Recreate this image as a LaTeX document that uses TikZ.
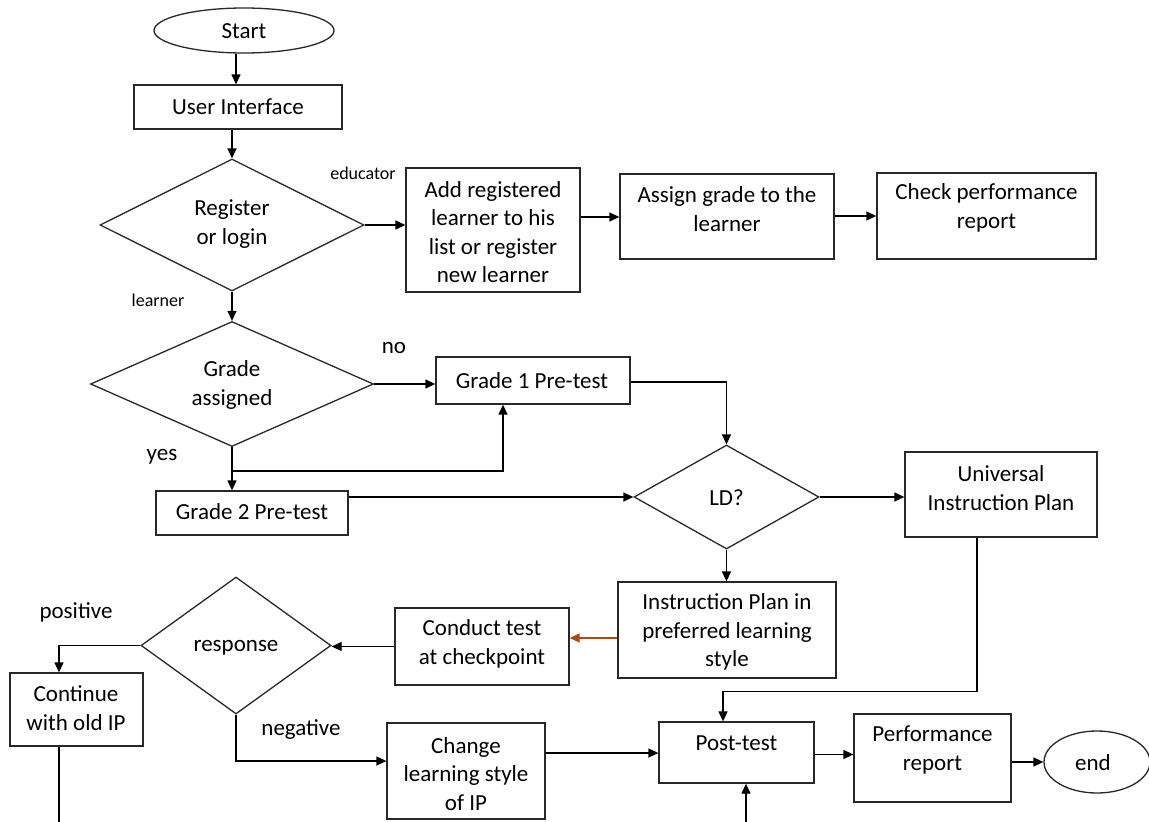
\documentclass[tikz,border=0pt]{standalone}
\usepackage{fontspec}
\setmainfont{Carlito}
\usetikzlibrary{shapes.geometric,arrows.meta,calc}
\definecolor{brownline}{RGB}{166,76,20}
\definecolor{ink}{RGB}{40,40,40}
\begin{document}
\begin{tikzpicture}[x=1pt,y=-1pt,
  box/.style={draw=ink,line width=1.3pt,rectangle,inner sep=0pt},
  dia/.style={draw=ink,line width=1.3pt,diamond,inner sep=0pt},
  oval/.style={draw=ink,line width=1.3pt,ellipse,inner sep=0pt},
  txt/.style={inner sep=0pt,align=center,font=\fontsize{23}{28.3}\selectfont},
  lab/.style={inner sep=0pt,font=\fontsize{23}{28}\selectfont},
  slab/.style={inner sep=0pt,font=\fontsize{18}{22}\selectfont},
  arr/.style={line width=1.3pt,-{Triangle[length=10pt,width=9pt]}},
  ln/.style={line width=1.3pt}]
\useasboundingbox (0,0) rectangle (1149,822);
% shapes
\node[oval,minimum width=180pt,minimum height=45pt] (start) at (244,30.5) {};
\node[txt] (start-t) at (244,31) {Start};
\node[box,minimum width=208pt,minimum height=44pt] (ui) at (238,107) {};
\node[txt] (ui-t) at (238,107) {User Interface};
\node[dia,minimum width=264pt,minimum height=132pt] (reg) at (232,225) {};
\node[txt] (reg-t) at (232,224) {Register\\or login};
\node[box,minimum width=174pt,minimum height=124pt] (add) at (493,230) {};
\node[txt] (add-t) at (493,232) {Add registered\\learner to his\\list or register\\new learner};
\node[box,minimum width=214pt,minimum height=85pt] (assign) at (727,216.5) {};
\node[txt] (assign-t) at (727,209) {Assign grade to the\\learner};
\node[box,minimum width=219pt,minimum height=86pt] (check) at (986.5,216) {};
\node[txt] (check-t) at (986.5,208) {Check performance\\report};
\node[dia,minimum width=283pt,minimum height=125pt] (grade) at (232,384) {};
\node[txt] (grade-t) at (232,385) {Grade\\assigned};
\node[box,minimum width=194pt,minimum height=47pt] (g1) at (533,380.5) {};
\node[txt] (g1-t) at (532,381) {Grade 1 Pre-test};
\node[box,minimum width=192pt,minimum height=44pt] (g2) at (252,513) {};
\node[txt] (g2-t) at (252,512) {Grade 2 Pre-test};
\node[dia,minimum width=185pt,minimum height=104pt] (ld) at (726.5,497) {};
\node[txt] (ld-t) at (726.5,498) {LD?};
\node[box,minimum width=192pt,minimum height=85pt] (univ) at (1001,494.5) {};
\node[txt] (univ-t) at (1001,488) {Universal\\Instruction Plan};
\node[box,minimum width=218pt,minimum height=96pt] (ip) at (727,630) {};
\node[txt] (ip-t) at (727,632) {Instruction Plan in\\preferred learning\\style};
\node[box,minimum width=174pt,minimum height=77pt] (conduct) at (482,646.5) {};
\node[txt] (conduct-t) at (482,644) {Conduct test\\at checkpoint};
\node[dia,minimum width=190pt,minimum height=137pt] (resp) at (236,645.5) {};
\node[txt] (resp-t) at (236,648) {response};
\node[box,minimum width=133pt,minimum height=73pt] (cont) at (76.5,709.5) {};
\node[txt] (cont-t) at (76,708) {Continue\\with old IP};
\node[box,minimum width=158pt,minimum height=96pt] (change) at (466,771) {};
\node[txt] (change-t) at (466,774) {Change\\learning style\\of IP};
\node[box,minimum width=155pt,minimum height=61pt] (post) at (736.5,752.5) {};
\node[txt] (post-t) at (736.5,743) {Post-test};
\node[box,minimum width=157pt,minimum height=88pt] (perf) at (932.5,758) {};
\node[txt] (perf-t) at (932.5,750) {Performance\\report};
\node[oval,minimum width=106pt,minimum height=62pt] (endn) at (1097,762) {};
\node[txt] (endn-t) at (1093,763) {end};
% labels
\node[slab] (l-edu) at (363,173) {educator};
\node[slab] (l-lrn) at (158,300) {learner};
\node[lab] (l-no) at (394,348) {no};
\node[lab] (l-yes) at (162,457) {yes};
\node[lab] (l-pos) at (76,612) {positive};
\node[lab] (l-neg) at (301,730) {negative};
% free ends
\coordinate (contout) at (59,822);
\coordinate (postin) at (746,822);
\coordinate (branch) at (232,471);
% connectors
\draw[arr] ([xshift=-8pt]start.south) -- ([xshift=-2pt]ui.north);
\draw[arr] ([xshift=-6pt]ui.south) -- (reg.north);
\draw[arr] (reg.east) -- (reg.east -| add.west);
\draw[arr] ([yshift=13pt]add.east) -- ([yshift=13pt]add.east -| assign.west);
\draw[arr] ([yshift=0.5pt]assign.east) -- ([yshift=0.5pt]assign.east -| check.west);
\draw[arr] (reg.south) -- (grade.north);
\draw[arr] (grade.east) -- (grade.east -| g1.west);
\draw[arr] (grade.south) -- (grade.south |- g2.north);
\draw[arr] (branch) -| ([xshift=-30pt]g1.south);
\draw[arr] ([yshift=-1.5pt]g1.east) -| (ld.north);
\draw[arr] (g2.east |- ld.west) -- (ld.west);
\draw[arr] (ld.east) -- (ld.east -| univ.west);
\draw[arr] (ld.south) -- (ld.south |- ip.north);
\draw[arr] ([xshift=-24pt]univ.south) |- ([xshift=-13.5pt,yshift=30pt]post.north) -- ([xshift=-13.5pt]post.north);
\draw[arr,draw=brownline,fill=brownline] ([yshift=-8pt]ip.west) -- ([yshift=-8pt]ip.west -| conduct.east);
\draw[arr] (conduct.west) -- (conduct.west -| resp.east);
\draw[arr] (resp.west) -| ([xshift=-17.5pt]cont.north);
\draw[ln] ([xshift=-17.5pt]cont.south) -- (contout);
\draw[arr] (resp.south) |- ([yshift=10pt]change.west);
\draw[arr] ([yshift=18pt]change.east) -- ([yshift=18pt]change.east -| post.west);
\draw[arr] (postin) -- (postin |- post.south);
\draw[arr] ([yshift=-2pt]post.east) -- ([yshift=-2pt]post.east -| perf.west);
\draw[arr] (perf.east |- endn.west) -- (endn.west);
\end{tikzpicture}
\end{document}
